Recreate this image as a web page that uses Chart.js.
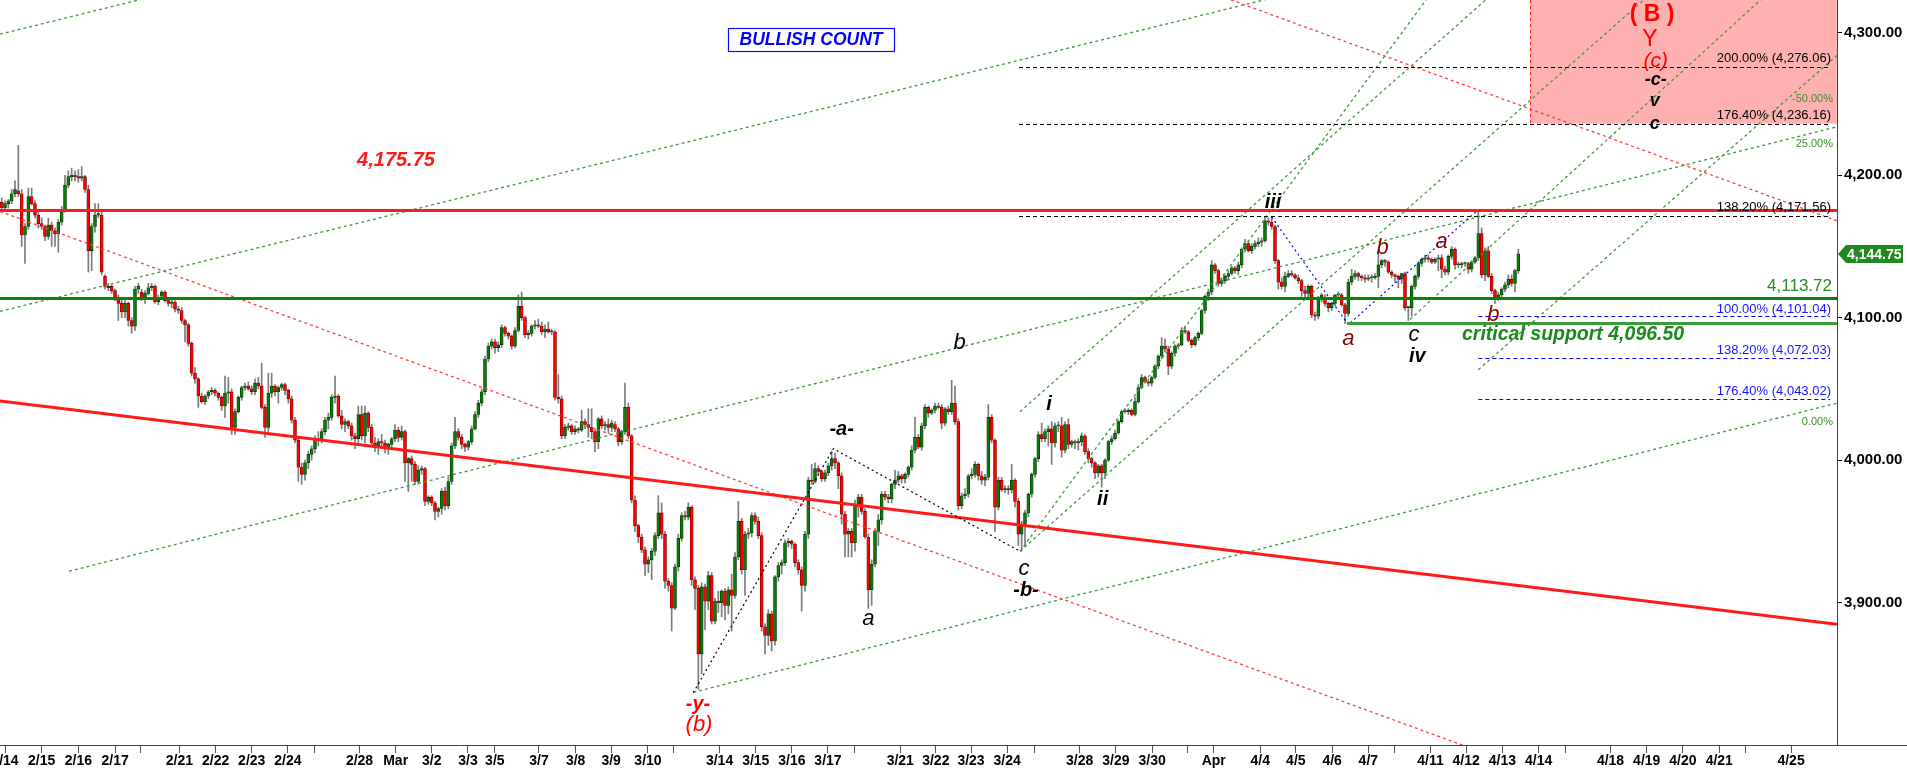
<!DOCTYPE html>
<html><head><meta charset="utf-8">
<script src="https://cdn.jsdelivr.net/npm/chart.js@4.4.1/dist/chart.umd.min.js"></script>
<style>html,body{margin:0;padding:0;background:#fff;overflow:hidden}canvas{display:block}</style>
</head><body>
<canvas id="c" width="1907" height="770"></canvas>
<script>
// ---------- DATA (2-hour candles, [open, high, low, close]) ----------
const febA = [
[4181,4184,4176,4177],[4177,4182,4175,4180],[4180,4183,4177,4182],[4182,4190,4180,4187],[4187,4196,4185,4190],
[4189,4221,4185,4187],[4187,4190,4150,4158],[4158,4166,4138,4164],[4164,4191,4162,4185],[4185,4191,4179,4180],
[4180,4182,4170,4172],[4172,4174,4163,4166],[4166,4170,4162,4164],[4164,4165,4154,4157],[4157,4170,4155,4165],
[4165,4167,4150,4161],[4161,4163,4150,4159],[4159,4169,4146,4167],[4167,4178,4165,4176],[4176,4200,4174,4193],
[4193,4203,4191,4199],[4199,4205,4196,4200],[4200,4203,4196,4199],[4199,4204,4195,4198],[4198,4206,4196,4199],
[4199,4200,4188,4190],[4190,4193,4132,4147],[4147,4166,4133,4164],[4164,4180,4160,4172],[4172,4180,4170,4173],
[4172,4174,4130,4132],[4129,4130,4120,4122],[4121,4124,4119,4122],[4122,4123,4117,4119],[4119,4120,4112,4114],
[4114,4116,4098,4110],[4110,4112,4100,4104],[4104,4112,4100,4110],[4110,4111,4094,4098],[4098,4100,4089,4094],
[4094,4122,4091,4120],[4120,4124,4117,4122],[4118,4120,4112,4114],[4114,4119,4110,4117],[4117,4124,4116,4121],
[4121,4124,4119,4122],[4122,4123,4110,4111],[4111,4116,4109,4114],[4115,4119,4114,4118],[4118,4119,4111,4112],
[4112,4114,4108,4110],[4110,4113,4107,4111],[4111,4112,4104,4106],[4106,4108,4103,4105],[4105,4107,4096,4098],
[4098,4099,4083,4095],[4095,4096,4080,4082],[4082,4083,4059,4061],[4061,4065,4054,4057],[4057,4058,4037,4045],
[4045,4047,4040,4041],[4041,4046,4039,4045],[4045,4049,4043,4048],[4048,4051,4046,4049],[4049,4050,4045,4047],
[4047,4048,4042,4044],[4044,4045,4035,4038],[4038,4059,4030,4047],[4047,4058,4040,4048],[4048,4050,4018,4023],
[4023,4036,4018,4034],[4034,4045,4033,4044],[4044,4052,4042,4051],[4051,4054,4049,4052],[4052,4055,4049,4050],
[4050,4052,4046,4048],[4048,4057,4046,4054],[4054,4058,4050,4052],[4052,4068,4036,4037],[4037,4039,4016,4023],
[4023,4061,4020,4047],[4047,4061,4044,4052],[4052,4053,4045,4048],[4048,4052,4040,4051],[4051,4054,4049,4053],
[4053,4054,4046,4049],[4049,4050,4040,4043],[4043,4045,4026,4028],[4028,4030,4012,4014],[4014,4016,3985,3995]
];
const febB = [
[3995,3998,3983,3990],[3990,4000,3986,3998],[3998,4006,3994,4004],[4004,4010,4000,4008],[4008,4017,4005,4015],
[4015,4020,4010,4014],[4014,4022,4012,4020],[4020,4030,4018,4028],[4028,4033,4022,4030],[4030,4046,4028,4044],
[4044,4059,4040,4045],[4045,4046,4030,4031],[4031,4035,4022,4025],[4025,4029,4020,4027],[4027,4028,4022,4024],
[4024,4026,4014,4017],[4017,4019,4008,4015],[4015,4038,4012,4032],[4032,4038,4014,4017],[4017,4038,4012,4033],
[4033,4034,4020,4023],[4023,4025,4010,4012],[4012,4016,4006,4010],[4010,4015,4004,4013],[4013,4018,4010,4012],
[4012,4014,4005,4008],[4008,4012,4004,4011],[4011,4016,4009,4015],[4015,4025,4013,4021],[4021,4023,4013,4016]
];
const marA = [
[4016,4024,4014,4020],[4020,4021,3985,3998],[3998,4002,3978,4001],[4001,4003,3985,3997],[3997,3999,3983,3985],
[3985,3996,3983,3993],[3993,3996,3990,3994],[3994,3995,3968,3971],[3971,3975,3969,3974],[3974,3975,3968,3970],
[3970,3971,3958,3964],[3964,3967,3960,3966],[3966,3980,3962,3978],[3978,3981,3965,3968],[3968,3988,3966,3985],
[3985,4012,3983,4010],[4010,4030,4008,4020],[4020,4022,4014,4016],[4016,4018,4008,4011],[4011,4012,4006,4009],
[4009,4014,4007,4013],[4013,4024,4011,4022],[4022,4034,4021,4032],[4032,4042,4030,4040],[4040,4050,4038,4048],
[4048,4073,4046,4071],[4071,4082,4069,4080],[4080,4085,4078,4083],[4083,4085,4075,4079],[4079,4083,4076,4081],
[4081,4095,4079,4093],[4093,4094,4087,4089],[4089,4090,4085,4087],[4087,4088,4078,4080],[4080,4093,4079,4091],
[4091,4116,4090,4108],[4108,4118,4098,4100],[4100,4101,4086,4088],[4088,4091,4085,4089],[4089,4095,4087,4094],
[4094,4098,4092,4095],[4095,4099,4093,4094],[4094,4097,4088,4090],[4090,4095,4086,4092],[4092,4097,4089,4090],
[4090,4092,4088,4090],[4090,4091,4042,4044],[4044,4060,4040,4043],[4043,4045,4015,4017],[4017,4025,4015,4023],
[4023,4026,4021,4024],[4024,4025,4018,4020],[4020,4024,4018,4022],[4022,4023,4019,4021],[4021,4035,4020,4027],
[4027,4029,4022,4025],[4025,4036,4016,4023],[4023,4036,4015,4020],[4020,4022,4006,4013],[4013,4030,4008,4029],
[4029,4031,4022,4024],[4024,4027,4021,4025],[4025,4029,4019,4023],[4023,4028,4020,4026],[4025,4027,4020,4022],
[4022,4023,4010,4013],[4013,4021,4011,4020],[4020,4054,4018,4037],[4037,4040,4015,4017],[4017,4018,3970,3972],
[3972,3975,3950,3954],[3954,3955,3942,3946]
];
const marB = [
[3946,3948,3935,3937],[3937,3939,3919,3927],[3927,3932,3921,3930],[3930,3938,3916,3936],[3936,3949,3933,3947],
[3947,3975,3945,3963],[3963,3970,3945,3948],[3948,3950,3910,3915],[3915,3917,3908,3912],[3912,3914,3880,3896],
[3896,3927,3895,3925],[3925,3948,3922,3945],[3945,3963,3943,3961],[3961,3964,3958,3960],[3960,3970,3958,3967],
[3967,3968,3912,3916],[3916,3918,3895,3910],[3910,3912,3839,3864],[3864,3914,3850,3911],[3911,3913,3881,3901],
[3901,3922,3895,3919],[3919,3921,3885,3887],[3887,3903,3885,3901],[3901,3908,3893,3900],[3900,3909,3890,3908],
[3908,3910,3888,3898],[3898,3911,3892,3909],[3909,3920,3880,3905],[3905,3935,3903,3932],[3932,3971,3930,3957],
[3957,3959,3920,3923],[3923,3950,3905,3948],[3948,3952,3945,3949],[3949,3963,3946,3961],[3961,3963,3955,3957],
[3957,3960,3945,3947],[3947,3949,3880,3883],[3883,3885,3864,3877],[3877,3895,3870,3892],[3892,3894,3866,3873],
[3873,3919,3870,3918],[3918,3928,3915,3926],[3926,3930,3920,3928],[3928,3944,3926,3942],[3942,3945,3939,3943],
[3943,3944,3938,3941],[3941,3942,3925,3928],[3928,3930,3920,3923],[3923,3925,3894,3912],[3912,3950,3908,3948],
[3948,3988,3945,3986],[3986,3997,3983,3985],[3985,3998,3984,3994],[3994,3996,3990,3992],[3992,3993,3985,3987],
[3987,3993,3985,3991],[3991,3998,3989,3996],[3996,4006,3993,4001],[4001,4005,3994,3998],[3998,3999,3980,3989],
[3989,3991,3955,3962],[3962,3964,3932,3948],[3948,3952,3932,3950],[3950,3952,3932,3942],[3942,3972,3936,3969],
[3969,3976,3960,3974],[3974,3976,3962,3964],[3964,3966,3945,3946],[3946,3948,3896,3909],[3909,3930,3898,3927],
[3927,3952,3925,3950],[3950,3962,3940,3958],[3958,3978,3955,3976],[3976,3978,3972,3974],[3974,3976,3970,3973],
[3973,3984,3970,3983],[3983,3993,3980,3986],[3986,3992,3984,3989],[3989,3990,3984,3987],[3987,3991,3984,3990],
[3990,3996,3988,3995],[3995,4010,3993,4007],[4007,4030,4005,4016],[4016,4018,4008,4009],[4009,4026,4007,4024],
[4024,4039,4022,4037],[4037,4038,4030,4033],[4033,4036,4032,4035],[4035,4040,4033,4038],[4038,4040,4036,4037],
[4037,4039,4022,4026],[4026,4037,4024,4036],[4036,4038,4032,4034],[4034,4056,4032,4040],[4040,4052,4025,4027],
[4027,4029,3965,3968],[3968,3977,3966,3975],[3975,3980,3973,3976],[3976,3990,3974,3989],[3989,3994,3987,3990],
[3990,3999,3988,3997],[3997,3998,3986,3989]
];
const aprA = [
[3989,3992,3983,3986],[3986,3990,3982,3988],[3988,4039,3986,4030],[4030,4032,4012,4014],[4014,4015,3950,3967],
[3967,3988,3965,3986],[3986,3988,3978,3979],[3979,3982,3977,3980],[3980,3982,3976,3979],[3979,3997,3977,3986],
[3986,3987,3967,3971],[3971,3973,3940,3948],[3948,3957,3936,3955],[3955,3965,3940,3963],[3963,3977,3960,3976],
[3976,3991,3974,3990],[3990,4002,3988,4001],[4001,4020,3999,4018],[4018,4026,4013,4015],[4015,4022,4013,4020],
[4020,4024,4010,4022],[4022,4027,3997,4012],[4012,4026,4009,4024],[4024,4027,4020,4024],[4024,4030,4002,4007],
[4007,4027,4005,4025],[4025,4029,4008,4011],[4011,4014,4009,4013],[4013,4014,4008,4012],[4012,4015,4007,4013],
[4013,4019,4010,4017],[4017,4018,4004,4006],[4006,4008,3998,4001],[4001,4002,3995,3998],[3998,3999,3987,3991],
[3991,3997,3988,3996],[3996,3997,3981,3991],[3991,4001,3987,4000],[4000,4014,3999,4013],[4013,4017,4011,4015],
[4015,4021,4014,4019],[4019,4028,4018,4027],[4027,4035,4026,4034],[4034,4036,4033,4034],[4034,4036,4032,4035],
[4035,4036,4031,4032],[4032,4044,4031,4041],[4041,4053,4040,4051],[4051,4060,4050,4058],[4058,4059,4054,4055],
[4055,4057,4052,4054],[4054,4059,4052,4058],[4058,4067,4057,4066],[4066,4074,4064,4073],[4073,4086,4071,4080],
[4080,4085,4076,4078],[4078,4080,4060,4066],[4066,4076,4064,4075],[4075,4081,4073,4080],[4080,4082,4078,4081],
[4081,4093,4080,4091],[4091,4094,4089,4090],[4090,4091,4083,4084],[4084,4085,4079,4081],[4081,4087,4080,4086],
[4086,4090,4084,4089],[4089,4106,4088,4105],[4105,4116,4103,4115],[4115,4120,4112,4118],[4118,4140,4116,4137],
[4137,4138,4131,4133],[4133,4134,4122,4124],[4124,4128,4122,4126],[4126,4130,4124,4129],[4129,4133,4127,4131],
[4131,4136,4130,4135],[4135,4136,4131,4133],[4133,4139,4130,4137],[4137,4149,4135,4148],[4148,4155,4146,4152],
[4152,4154,4146,4147],[4147,4152,4145,4150],[4150,4154,4148,4152],[4152,4156,4150,4153]
];
const aprB = [
[4153,4156,4150,4154],[4154,4171,4153,4168],[4168,4170,4165,4167],[4167,4171,4162,4164],[4164,4165,4138,4140],
[4140,4141,4120,4125],[4125,4128,4120,4122],[4122,4132,4118,4129],[4129,4133,4128,4131],[4131,4133,4129,4130],
[4130,4131,4127,4128],[4128,4130,4124,4126],[4126,4127,4115,4119],[4119,4122,4114,4117],[4117,4123,4115,4122],
[4122,4123,4100,4102],[4102,4104,4098,4101],[4101,4115,4099,4114],[4114,4117,4111,4116],[4114,4116,4108,4110],
[4110,4111,4104,4107],[4107,4111,4105,4110],[4110,4116,4108,4116],[4116,4118,4113,4116],[4116,4117,4108,4109],
[4109,4110,4096,4103],[4103,4127,4101,4125],[4125,4134,4123,4129],[4129,4133,4127,4131],[4131,4132,4126,4129],
[4129,4130,4126,4128],[4128,4130,4125,4127],[4127,4130,4126,4128],[4128,4130,4125,4128],[4128,4131,4127,4129],
[4129,4146,4121,4137],[4137,4141,4135,4140],[4140,4141,4136,4139],[4139,4140,4131,4132],[4132,4133,4128,4130],
[4130,4131,4125,4129],[4129,4130,4121,4127],[4127,4131,4124,4131],[4131,4132,4105,4107],[4107,4108,4098,4107],
[4107,4123,4101,4122],[4122,4130,4120,4129],[4129,4139,4127,4138],[4138,4142,4136,4141],[4141,4144,4139,4142],
[4142,4144,4139,4141],[4141,4142,4138,4139],[4139,4142,4138,4141],[4141,4144,4133,4142],[4142,4144,4128,4134],
[4134,4136,4130,4132],[4132,4144,4130,4143],[4143,4150,4141,4148],[4148,4149,4134,4137],[4137,4139,4135,4137],
[4137,4139,4135,4138],[4138,4139,4136,4138],[4138,4139,4131,4134],[4134,4140,4132,4139],[4139,4143,4138,4142],
[4142,4176,4140,4159],[4159,4163,4128,4130],[4130,4149,4126,4147],[4147,4150,4128,4129],[4129,4131,4117,4119],
[4119,4120,4110,4114],[4114,4118,4112,4116],[4116,4121,4114,4120],[4120,4125,4118,4123],[4123,4130,4121,4127],
[4127,4130,4122,4124],[4124,4134,4118,4133],[4133,4148,4131,4144.75]
];
// x-axis day ticks (in candle-index units) and their labels
const dayTickPos = [1.0,11.98,23.02,34.03,41.74,53.32,64.18,75.02,85.85,93.74,107.36,118.19,129.02,139.88,147.95,161.18,172.2,182.84,193.89,201.6,215.37,226.23,237.06,247.89,255.78,269.58,280.24,290.8,301.66,309.82,323.41,334.27,345.13,355.84,363.61,377.57,388.25,399.14,410.0,417.98,428.66,439.34,450.23,461.1,469.25,482.66,493.52,504.38,515.28,523.05,536.82];
const dayTickLabels = ['2/14','2/15','2/16','2/17','','2/21','2/22','2/23','2/24','','2/28','Mar','3/2','3/3','3/5','3/7','3/8','3/9','3/10','','3/14','3/15','3/16','3/17','','3/21','3/22','3/23','3/24','','3/28','3/29','3/30','','Apr','4/4','4/5','4/6','4/7','','4/11','4/12','4/13','4/14','','4/18','4/19','4/20','4/21','','4/25'];
const priceTicks = [3900,4000,4100,4200,4300];
const lastPrice = 4144.75;
const resistanceLevel = 4175.75;
const supportLevel = 4113.72;
const criticalSupport = 4096.50;
const upperFibs = [['200.00%',4276.06],['176.40%',4236.16],['138.20%',4171.56]];
const lowerFibs = [['100.00%',4101.04],['138.20%',4072.03],['176.40%',4043.02]];

const candles = [].concat(febA, febB, marA, marB, aprA, aprB);

// ---------- CHART ----------
const FONT = "'Liberation Sans', Arial, sans-serif";
const up = i => candles[i][3] >= candles[i][0];
const fmt = v => v.toLocaleString('en-US', {minimumFractionDigits: 2, maximumFractionDigits: 2});

const overlay = {
  id: 'overlay',
  beforeDatasetsDraw(chart) {
    const {ctx, chartArea: a, scales: {x, y}} = chart;
    ctx.save();
    ctx.beginPath(); ctx.rect(a.left, a.top, a.width, a.height); ctx.clip();
    const x0 = Math.round(x.getPixelForValue(458.4)), yb = y.getPixelForValue(upperFibs[1][1]);
    ctx.fillStyle = '#ffb0b0';
    ctx.fillRect(x0, a.top, a.right - x0, yb - a.top);
    ctx.strokeStyle = '#ff2a2a'; ctx.lineWidth = 1; ctx.setLineDash([3, 3]);
    ctx.beginPath(); ctx.moveTo(x0 + 0.5, a.top); ctx.lineTo(x0 + 0.5, yb); ctx.stroke();
    ctx.restore();
  },
  afterDatasetsDraw(chart) {
    const {ctx, chartArea: a, scales: {x, y}} = chart;
    const X = v => x.getPixelForValue(v), Y = v => y.getPixelForValue(v);
    const line = (pts, color, w, dash) => {
      ctx.strokeStyle = color; ctx.lineWidth = w; ctx.setLineDash(dash || []);
      ctx.beginPath();
      pts.forEach((p, k) => { const px = X(p[0]), py = Y(p[1]); k ? ctx.lineTo(px, py) : ctx.moveTo(px, py); });
      ctx.stroke();
    };
    const hline = (price, x1, x2, color, w, dash) => {
      const py = Math.round(Y(price)) + (w % 2 ? 0.5 : 0);
      ctx.strokeStyle = color; ctx.lineWidth = w; ctx.setLineDash(dash || []);
      ctx.beginPath(); ctx.moveTo(x1, py); ctx.lineTo(x2, py); ctx.stroke();
    };
    const text = (s, px, py, font, color, align) => {
      ctx.font = font; ctx.fillStyle = color; ctx.textAlign = align || 'center'; ctx.textBaseline = 'middle';
      ctx.fillText(s, px, py);
    };
    ctx.save();
    ctx.beginPath(); ctx.rect(a.left, a.top, a.width, a.height); ctx.clip();

    const G = '#3d9b3d', GD = [3, 3];
    // shallow green channel lines
    line([[-0.5, 4299], [100, 4357]], G, 1.3, GD);
    line([[-0.5, 4104.4], [380, 4323.8]], G, 1.3, GD);
    line([[20.2, 3922], [550.6, 4234]], G, 1.3, GD);
    line([[207.5, 3837], [550.6, 4040]], G, 1.3, GD);
    // steep green lines
    line([[305.5, 3936], [427.3, 4323]], G, 1.3, GD);
    line([[305.5, 3936], [550.6, 4443]], G, 1.3, GD);
    line([[305.5, 4034], [550.6, 4541]], G, 1.3, GD);
    line([[422.5, 4098.7], [550.6, 4372]], G, 1.3, GD);
    line([[443.0, 4063.5], [550.6, 4284]], G, 1.3, GD);
    // red dotted channel
    line([[-0.5, 4174.5], [440.5, 3798]], '#ff4040', 1.3, [3, 3]);
    line([[340, 4347.6], [550.6, 4168]], '#ff4040', 1.3, [3, 3]);
    // thick red trend line
    line([[-0.5, 4041.5], [550.6, 3884.8]], '#ff1a1a', 3);
    // zigzags
    line([[207.5, 3836.8], [249.5, 4008], [305.5, 3936]], '#000', 1.2, [2, 3]);
    line([[381.0, 4170.6], [404.0, 4095.1], [443.0, 4175.8]], '#0000ff', 1.2, [2, 3]);

    // fib levels
    const fx1 = X(305.2), fx2 = a.right - 7, bx1 = X(443.0);
    upperFibs.forEach(f => hline(f[1], fx1, fx2, '#000', 1, [4, 3]));
    lowerFibs.forEach(f => hline(f[1], bx1, fx2, '#0000ff', 1, [4, 3]));
    // horizontal levels
    hline(resistanceLevel, a.left, a.right, '#ff1a1a', 3);
    hline(supportLevel, a.left, a.right, '#0a820a', 3);
    hline(criticalSupport, X(403.6), a.right, '#3c9a3c', 3);
    ctx.restore();

    // ----- texts -----
    const tr = a.right - 6;
    upperFibs.forEach(f => text(f[0] + ' (' + fmt(f[1]) + ')', tr, Y(f[1]) - 8, '13px ' + FONT, '#000', 'right'));
    lowerFibs.forEach(f => text(f[0] + ' (' + fmt(f[1]) + ')', tr, Y(f[1]) - 7, '13px ' + FONT, '#1414ff', 'right'));
    text('-50.00%', tr + 2, 99, '11px ' + FONT, '#3a8f2a', 'right');
    text('25.00%', tr + 2, 144, '11px ' + FONT, '#3a8f2a', 'right');
    text('0.00%', tr + 2, 422, '11px ' + FONT, '#3a8f2a', 'right');
    text(fmt(supportLevel), tr + 1, Y(supportLevel) - 12, '17px ' + FONT, '#2a8a2a', 'right');
    text(fmt(resistanceLevel), X(118.3), Y(4210.1), 'italic bold 20px ' + FONT, '#ff1a1a');
    text('critical support ' + fmt(criticalSupport), X(438.1), Y(4088.1), 'italic bold 19.5px ' + FONT, '#1a8a1a', 'left');

    // title box
    ctx.fillStyle = '#fff'; ctx.fillRect(728, 28, 166, 23);
    ctx.strokeStyle = '#1010ff'; ctx.lineWidth = 1.2; ctx.setLineDash([]);
    ctx.strokeRect(728.5, 28.5, 166, 23);
    text('BULLISH COUNT', X(242.8), 40.5, 'italic bold 17.5px ' + FONT, '#0000ff');

    // wave labels
    const W = 'italic 22px ' + FONT, WB = 'italic bold 20px ' + FONT;
    const blk = '#000', mr = '#8b0000', rd = '#ff0000';
    [
      ['iii', 381.4, 4180.9, WB, blk], ['b', 414.3, 4148.9, W, mr], ['a', 432.0, 4153.5, W, mr],
      ['a', 404.0, 4085.1, W, mr], ['c', 423.7, 4088.1, W, blk], ['iv', 424.7, 4072.9, WB, blk],
      ['b', 447.5, 4102.1, W, mr], ['i', 314.2, 4039, WB, blk], ['ii', 330.3, 3972.4, WB, blk],
      ['b', 287.4, 4082.5, W, blk], ['-a-', 252.0, 4021.5, WB, blk], ['a', 260.0, 3888.3, W, blk],
      ['c', 306.7, 3923.4, W, blk], ['-b-', 307.3, 3908.8, WB, blk],
      ['-y-', 208.9, 3828.6, WB, rd], ['(b)', 209.2, 3813.9, W, rd],
      ['( B )', 495.1, 4312.5, 'bold 23px ' + FONT, rd], ['Y', 494.5, 4295.4, '23px ' + FONT, rd],
      ['(c)', 496.2, 4280.4, 'italic 21px ' + FONT, rd], ['-c-', 496.2, 4266.9, 'italic bold 18px ' + FONT, blk],
      ['v', 495.9, 4252.2, 'italic bold 18px ' + FONT, blk], ['c', 495.9, 4236.0, 'italic bold 18px ' + FONT, blk]
    ].forEach(l => text(l[0], X(l[1]), Y(l[2]), l[3], l[4]));
  },
  afterDraw(chart) {
    const {ctx, chartArea: a, scales: {y}} = chart;
    ctx.save();
    ctx.strokeStyle = '#444'; ctx.lineWidth = 1; ctx.setLineDash([]);
    ctx.beginPath(); ctx.moveTo(a.right, Math.round(a.bottom) + 0.5); ctx.lineTo(1907, Math.round(a.bottom) + 0.5); ctx.stroke();
    const py = Math.round(y.getPixelForValue(lastPrice));
    ctx.fillStyle = '#1f8a1f';
    ctx.beginPath();
    ctx.moveTo(a.right + 1, py); ctx.lineTo(a.right + 9, py - 9); ctx.lineTo(1903, py - 9);
    ctx.lineTo(1903, py + 9); ctx.lineTo(a.right + 9, py + 9); ctx.closePath(); ctx.fill();
    ctx.font = 'bold 14px ' + FONT; ctx.fillStyle = '#fff'; ctx.textAlign = 'left'; ctx.textBaseline = 'middle';
    ctx.fillText(fmt(lastPrice), a.right + 10, py + 1);
    ctx.restore();
  }
};

new Chart(document.getElementById('c'), {
  type: 'bar',
  data: {
    datasets: [
      {
        label: 'wick', order: 2, grouped: false,
        data: candles.map((c, i) => ({x: i, y: [c[2], c[1]]})),
        backgroundColor: '#7a7a7a', barThickness: 1, minBarLength: 1
      },
      {
        label: 'body', order: 1, grouped: false,
        data: candles.map((c, i) => ({x: i, y: [c[0], c[3]]})),
        backgroundColor: ctx => up(ctx.dataIndex) ? '#0a7a0a' : '#ff0000',
        borderColor: ctx => up(ctx.dataIndex) ? '#003300' : '#700000',
        borderWidth: 0.7, borderSkipped: false, barThickness: 3, minBarLength: 1
      }
    ]
  },
  options: {
    responsive: false, animation: false, devicePixelRatio: 1,
    layout: {padding: 0, autoPadding: false},
    plugins: {legend: {display: false}, tooltip: {enabled: false}, title: {display: false}},
    scales: {
      x: {
        type: 'linear', min: -0.5, max: 550.6, offset: false,
        afterBuildTicks: s => { s.ticks = dayTickPos.map(v => ({value: v})); },
        afterFit: s => { s.height = 25; s.paddingLeft = 0; s.paddingRight = 0; },
        grid: {display: true, drawOnChartArea: false, drawTicks: true, tickLength: 8, color: '#555', offset: false},
        border: {display: true, color: '#444', width: 1},
        ticks: {autoSkip: false, maxRotation: 0, minRotation: 0, padding: 0, color: '#000',
          font: {family: FONT, size: 14, weight: 'bold'},
          callback: (v, i) => dayTickLabels[i]}
      },
      y: {
        position: 'right', min: 3800, max: 4323,
        afterBuildTicks: s => { s.ticks = priceTicks.map(v => ({value: v})); },
        afterFit: s => { s.width = 70; s.paddingTop = 0; s.paddingBottom = 0; },
        grid: {display: true, drawOnChartArea: false, tickLength: 5, color: '#000'},
        border: {display: true, color: '#444', width: 1},
        ticks: {padding: 2, color: '#000', font: {family: FONT, size: 15, weight: 'bold'}, callback: v => fmt(v)}
      }
    }
  },
  plugins: [overlay]
});
</script>
</body></html>
